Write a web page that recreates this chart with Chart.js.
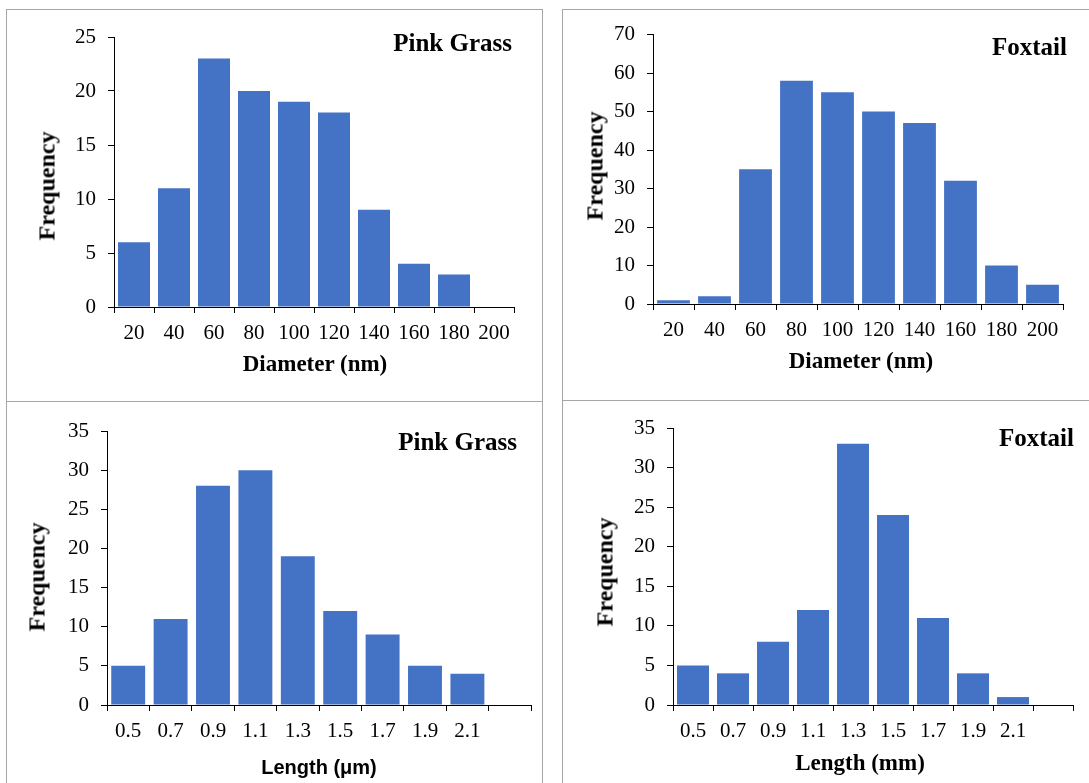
<!DOCTYPE html>
<html>
<head>
<meta charset="utf-8">
<script src="https://cdn.jsdelivr.net/npm/chart.js@4.4.1/dist/chart.umd.min.js"></script>
<style>
  html, body { margin: 0; padding: 0; background: #fff; }
  body { position: relative; width: 1089px; height: 783px; overflow: hidden; }
  .panel { position: absolute; border: 1px solid #a6a6a6; box-sizing: border-box; }
  canvas { position: absolute; }
  .txt { position: absolute; white-space: nowrap; color: #000; line-height: 1; transform: translate(-50%, -50%); }
  .rot { transform: translate(-50%, -50%) rotate(-90deg); }
  .name { position: absolute; white-space: nowrap; font: bold 25px "Liberation Serif", serif; line-height: 25px; }
</style>
</head>
<body>

<div class="panel" style="left:6px;top:9px;width:537px;height:393px"></div>
<div class="panel" style="left:562px;top:9px;width:540px;height:392px"></div>
<div class="panel" style="left:6px;top:401px;width:537px;height:400px"></div>
<div class="panel" style="left:562px;top:400px;width:540px;height:400px"></div>

<canvas id="c-tl"></canvas>
<canvas id="c-tr"></canvas>
<canvas id="c-bl"></canvas>
<canvas id="c-br"></canvas>

<div class="name" style="right:577px;top:30px">Pink Grass</div>
<div class="name" style="right:22px;top:34px">Foxtail</div>
<div class="name" style="right:572px;top:429px">Pink Grass</div>
<div class="name" style="right:15px;top:425px">Foxtail</div>

<script>
// 직경 분포 (nm)
const diamLabels = ["20", "40", "60", "80", "100", "120", "140", "160", "180", "200"];
const pinkDiam = [6, 11, 23, 20, 19, 18, 9, 4, 3, null];
const foxDiam = [1, 2, 35, 58, 55, 50, 47, 32, 10, 5];

// 길이 분포 (마지막 칸은 비어 있음)
const lenLabels = ["0.5", "0.7", "0.9", "1.1", "1.3", "1.5", "1.7", "1.9", "2.1", ""];
const pinkLen = [5, 11, 28, 30, 19, 12, 9, 5, 4, null];
const foxLen = [5, 4, 8, 12, 33, 24, 11, 4, 1, null];

// y축 눈금
const pinkDiamTicks = { max: 25, step: 5 };
const foxDiamTicks = { max: 70, step: 10 };
const lenTicks = { max: 35, step: 5 };

const BLUE = "#4472C4";
const SERIF = "'Liberation Serif', 'Times New Roman', serif";

// 축 제목은 DOM 텍스트로 얹는다
function addText(text, cx, cy, font, rotate) {
  const d = document.createElement("div");
  d.className = "txt" + (rotate ? " rot" : "");
  d.textContent = text;
  d.style.left = cx + "px";
  d.style.top = cy + "px";
  d.style.font = font;
  document.body.appendChild(d);
}

// g: 캔버스 위치/크기(x,y,w,h)와 원하는 플롯 영역(left,right,top,bottom), 모두 페이지 좌표
function histogram(id, g, labels, values, yt) {
  const cv = document.getElementById(id);
  cv.style.left = g.x + "px";
  cv.style.top = g.y + "px";
  cv.width = g.w;
  cv.height = g.h;

  const tickFont = { family: SERIF, size: 21, lineHeight: 1.2 };
  return new Chart(cv, {
    type: "bar",
    data: {
      labels,
      datasets: [{ data: values, backgroundColor: BLUE, barPercentage: 0.8, categoryPercentage: 1 }]
    },
    options: {
      responsive: false, animation: false, devicePixelRatio: 1,
      layout: { padding: { left: 0, top: g.top - g.y, right: g.x + g.w - g.right, bottom: 0 } },
      plugins: { legend: { display: false }, tooltip: { enabled: false } },
      scales: {
        x: {
          grid: { drawOnChartArea: false, tickLength: 6, color: "#000", lineWidth: 1 },
          border: { color: "#000", width: 1 },
          ticks: { font: tickFont, color: "#000", padding: 8, maxRotation: 0, autoSkip: false },
          afterFit: s => { s.height = g.y + g.h - g.bottom; }
        },
        y: {
          min: 0, max: yt.max,
          grid: { drawOnChartArea: false, tickLength: 6, color: "#000", lineWidth: 1 },
          border: { color: "#000", width: 1 },
          ticks: { stepSize: yt.step, font: tickFont, color: "#000", padding: 12 },
          afterFit: s => { s.width = g.left - g.x; }
        }
      }
    }
  });
}

histogram("c-tl", { x: 7, y: 10, w: 534, h: 390, left: 114, right: 514, top: 37, bottom: 307 },
  diamLabels, pinkDiam, pinkDiamTicks);
histogram("c-tr", { x: 563, y: 10, w: 526, h: 389, left: 653, right: 1063, top: 28, bottom: 304 },
  diamLabels, foxDiam, foxDiamTicks);
histogram("c-bl", { x: 7, y: 402, w: 534, h: 381, left: 107, right: 531, top: 431, bottom: 705 },
  lenLabels, pinkLen, lenTicks);
histogram("c-br", { x: 563, y: 401, w: 526, h: 382, left: 673, right: 1073, top: 428, bottom: 705 },
  lenLabels, foxLen, lenTicks);

const TITLE = "bold 23px " + SERIF;
const YTITLE = "bold 24px " + SERIF;
addText("Frequency", 47, 186, YTITLE, true);
addText("Frequency", 595, 166, YTITLE, true);
addText("Frequency", 37, 577, YTITLE, true);
addText("Frequency", 605, 572, YTITLE, true);
addText("Diameter (nm)", 315, 364, TITLE, false);
addText("Diameter (nm)", 861, 361, TITLE, false);
addText("Length (μm)", 319, 767, "bold 20px 'Liberation Sans', sans-serif", false);
addText("Length (mm)", 860, 763, TITLE, false);
</script>
</body>
</html>
